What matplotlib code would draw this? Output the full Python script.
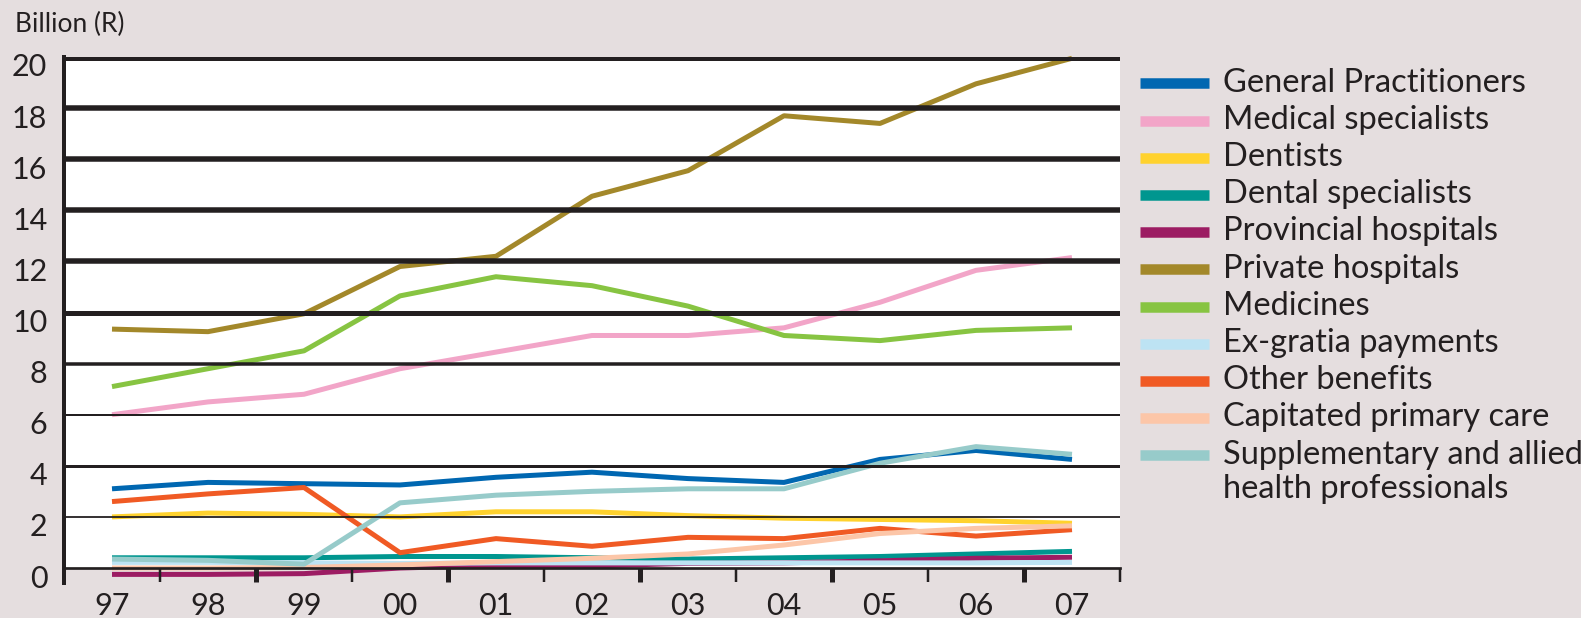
import matplotlib.pyplot as plt
from matplotlib.lines import Line2D
from matplotlib.transforms import ScaledTranslation

plt.rcParams['font.family'] = ['Lato', 'DejaVu Sans']

# values in billion rand, 1997 - 2007
years = ['97', '98', '99', '00', '01', '02', '03', '04', '05', '06', '07']

general_practitioners = [3.1, 3.35, 3.3, 3.25, 3.55, 3.75, 3.5, 3.35, 4.25, 4.6, 4.25]
medical_specialists = [6.0, 6.5, 6.8, 7.8, 8.45, 9.1, 9.1, 9.4, 10.4, 11.65, 12.15]
dentists = [2.0, 2.15, 2.1, 2.0, 2.2, 2.2, 2.05, 1.95, 1.9, 1.85, 1.75]
dental_specialists = [0.4, 0.4, 0.4, 0.45, 0.45, 0.4, 0.35, 0.4, 0.45, 0.55, 0.65]
provincial_hospitals = [-0.25, -0.25, -0.22, 0.0, 0.1, 0.08, 0.18, 0.2, 0.28, 0.38, 0.42]
private_hospitals = [9.35, 9.25, 9.95, 11.8, 12.2, 14.55, 15.55, 17.7, 17.4, 18.95, 19.95]
medicines = [7.1, 7.8, 8.5, 10.65, 11.4, 11.05, 10.25, 9.1, 8.9, 9.3, 9.4]
ex_gratia = [0.22, 0.22, 0.2, 0.18, 0.2, 0.2, 0.2, 0.2, 0.2, 0.2, 0.22]
other_benefits = [2.6, 2.9, 3.15, 0.6, 1.15, 0.85, 1.2, 1.15, 1.55, 1.25, 1.5]
capitated_care = [0.0, 0.0, 0.02, 0.12, 0.25, 0.38, 0.55, 0.9, 1.35, 1.55, 1.65]
supplementary = [0.35, 0.3, 0.15, 2.55, 2.85, 3.0, 3.1, 3.1, 4.1, 4.75, 4.45]

series = [
    ('General Practitioners', general_practitioners, '#0067B1'),
    ('Medical specialists', medical_specialists, '#F2A5C8'),
    ('Dentists', dentists, '#FFD22E'),
    ('Dental specialists', dental_specialists, '#00968F'),
    ('Provincial hospitals', provincial_hospitals, '#9C1C63'),
    ('Private hospitals', private_hospitals, '#A3882A'),
    ('Medicines', medicines, '#87C442'),
    ('Ex-gratia payments', ex_gratia, '#BDE3F3'),
    ('Other benefits', other_benefits, '#F05A24'),
    ('Capitated primary care', capitated_care, '#FCC6A8'),
    ('Supplementary and allied\nhealth professionals', supplementary, '#97CBCA'),
]

W, H = 1581, 618
bg = '#E5DEDF'
ink = '#231F20'
px = 0.72  # points per pixel at dpi 100

fig = plt.figure(figsize=(W / 100, H / 100), dpi=100)
fig.patch.set_facecolor(bg)
ax = fig.add_axes([64 / W, 1 - 568 / H, (1120 - 64) / W, (568 - 57) / H])
ax.set_facecolor('white')
ax.set_xlim(-0.5, 10.5)
ax.set_ylim(0, 20)

x = list(range(len(years)))
for label, vals, color in series:
    ax.plot(x, vals, color=color, lw=5 * px, clip_on=False, zorder=3,
            solid_joinstyle='round', solid_capstyle='butt')

# gridlines (drawn over the lines like the original)
grid_w = {2: 1.8, 4: 3, 6: 2, 8: 3.5, 10: 5, 12: 5.5, 14: 5.5, 16: 5.5, 18: 5.5, 20: 7}
for v, w in grid_w.items():
    ax.axhline(v, color=ink, lw=w * px, zorder=5)

for s in ['top', 'right']:
    ax.spines[s].set_visible(False)
ax.spines['bottom'].set_linewidth(2.7 * px)
ax.spines['bottom'].set_color(ink)
ax.spines['bottom'].set_zorder(6)
ax.spines['left'].set_linewidth(4 * px)
ax.spines['left'].set_color(ink)
ax.spines['left'].set_bounds(-0.6, 20)
ax.spines['left'].set_zorder(6)

# tick marks between the years, alternating thin / thick
for i in range(11):
    p = i + 0.5
    w = 5 if i % 2 == 1 else 2.5
    ax.plot([p, p], [0, -0.55], color=ink, lw=w * px, clip_on=False,
            solid_capstyle='butt', zorder=6)

ax.set_xticks(x)
ax.set_xticklabels(years)
ax.tick_params(axis='x', length=0, pad=17, labelsize=22, colors=ink)
ax.set_yticks(range(0, 21, 2))
ax.tick_params(axis='y', length=0, pad=12, labelsize=22, colors=ink)
for t in ax.get_yticklabels():
    t.set_transform(t.get_transform() + ScaledTranslation(0, -8 / 100, fig.dpi_scale_trans))

fig.text(15 / W, 1 - 32 / H, 'Billion (R)', fontsize=19, color=ink, va='baseline')

# legend, one text per line so the swatch sits on the first line
for i, (label, vals, color) in enumerate(series):
    y = 83.3 + 37.2 * i
    fig.add_artist(Line2D([1140 / W, 1209 / W], [1 - y / H, 1 - y / H],
                          lw=10.5 * px, color=color, solid_capstyle='butt'))
    for j, line in enumerate(label.split('\n')):
        fig.text(1223 / W, 1 - (y + 8.4 + 34 * j) / H, line, fontsize=23.5,
                 color=ink, va='baseline')

fig.savefig('out.png', dpi=100, facecolor=bg)
